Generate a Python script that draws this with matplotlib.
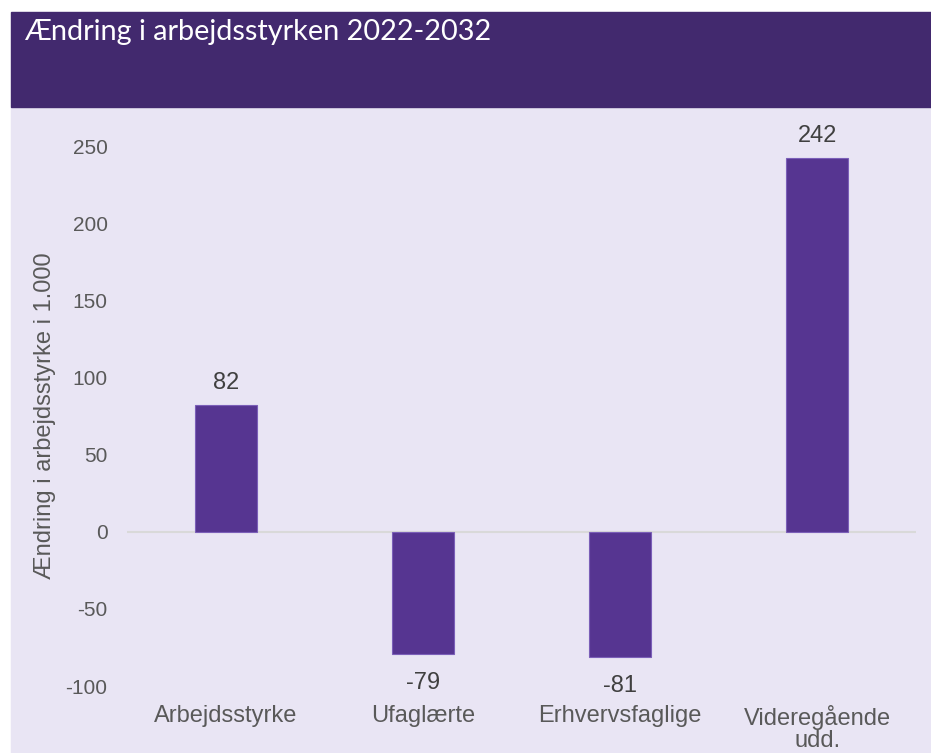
import matplotlib
matplotlib.use("Agg")
import matplotlib.pyplot as plt
from matplotlib.patches import Rectangle

plt.rcParams["axes.unicode_minus"] = False

# Data
categories = ["Arbejdsstyrke", "Ufaglærte", "Erhvervsfaglige", "Videregående\nudd."]
values = [82, -79, -81, 242]
yticks = [-100, -50, 0, 50, 100, 150, 200, 250]

title = "Ændring i arbejdsstyrken 2022-2032"
ylabel = "Ændring i arbejdsstyrke i 1.000"

# Colours
header_col = "#42296E"
panel_col = "#E9E5F4"
bar_col = "#563591"
text_col = "#595959"
label_col = "#404040"

W, H = 931, 753
fig = plt.figure(figsize=(W / 100, H / 100), dpi=100, facecolor="white")

# Background panel and header bar
fig.patches.append(Rectangle((11 / W, 0), 1 - 11 / W, 1 - 107 / H,
                             transform=fig.transFigure, color=panel_col, zorder=-2))
fig.patches.append(Rectangle((11 / W, 1 - 107 / H), 1 - 11 / W, (107 - 12) / H,
                             transform=fig.transFigure, color=header_col, zorder=-2))
fig.text(24 / W, 1 - 32 / H, title, color="white", fontsize=20.8,
         family="Lato", va="center", ha="left")

ax = fig.add_axes([127 / W, 1 - 686 / H, (916 - 127) / W, (686 - 146) / H])
ax.set_facecolor("none")
ax.set_zorder(2)

x = list(range(len(categories)))
bars = ax.bar(x, values, width=0.315, color=bar_col, edgecolor="#7B5FB8",
              linewidth=0.8, zorder=3)

# value labels: above positive bars, below negative bars
for xi, v in zip(x, values):
    if v >= 0:
        ax.annotate(str(v), (xi, v), xytext=(0, 8), textcoords="offset points",
                    ha="center", va="bottom", fontsize=17, color=label_col,
                    family="Liberation Sans")
    else:
        ax.annotate(str(v), (xi, v), xytext=(0, -13), textcoords="offset points",
                    ha="center", va="top", fontsize=17, color=label_col,
                    family="Liberation Sans")

ax.axhline(0, color="#D9D9D9", linewidth=1.5, zorder=2)

ax.set_xlim(-0.5, len(categories) - 0.5)
ax.set_ylim(-100, 250)
ax.set_yticks(yticks)
ax.set_xticks(x)
ax.set_xticklabels(categories, linespacing=1.0)

for s in ax.spines.values():
    s.set_visible(False)
ax.tick_params(axis="y", length=0, pad=14, labelsize=15, labelcolor=text_col)
ax.tick_params(axis="x", length=0, pad=14, labelsize=17, labelcolor=text_col)
for lab in ax.get_xticklabels() + ax.get_yticklabels():
    lab.set_family("Liberation Sans")

ax.set_ylabel(ylabel, fontsize=17, color=text_col, family="Liberation Sans")
ax.yaxis.set_label_coords(-0.090, 0.5)

fig.savefig("out.png", dpi=100, facecolor=fig.get_facecolor())
